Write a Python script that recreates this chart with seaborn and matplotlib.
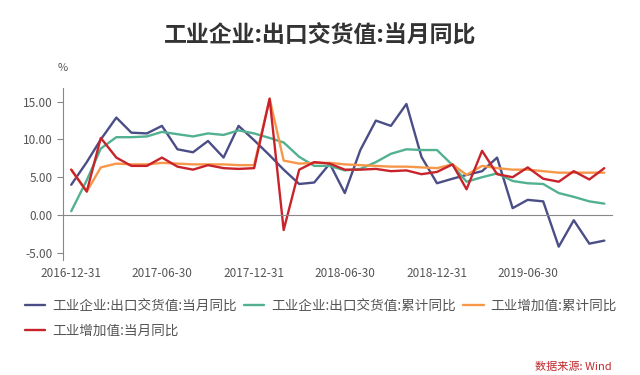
import pandas as pd
import matplotlib
matplotlib.use('Agg')
import matplotlib.pyplot as plt
import matplotlib.dates as mdates
import seaborn as sns

# monthly points, 2016-12 .. 2019-11
months = pd.date_range('2016-12-31', periods=36, freq='ME')

export_month = [4.0, 7.0, 10.0, 12.9, 10.9, 10.8, 11.8, 8.7, 8.3, 9.8, 7.6, 11.8,
                9.9, 7.9, 6.0, 4.1, 4.3, 6.8, 2.9, 8.6, 12.5, 11.8, 14.7, 7.7,
                4.2, 4.8, 5.3, 5.8, 7.6, 0.9, 2.0, 1.8, -4.2, -0.7, -3.8, -3.4]
export_cum = [0.5, 4.6, 8.8, 10.3, 10.3, 10.4, 11.0, 10.7, 10.4, 10.8, 10.6, 11.2,
              10.8, 10.2, 9.6, 7.7, 6.5, 6.5, 5.9, 6.1, 7.0, 8.1, 8.7, 8.6,
              8.6, 6.6, 4.4, 5.0, 5.5, 4.5, 4.2, 4.1, 2.9, 2.4, 1.8, 1.5]
va_cum = [6.0, 3.1, 6.3, 6.8, 6.7, 6.7, 6.9, 6.8, 6.7, 6.7, 6.7, 6.6,
          6.6, 15.4, 7.2, 6.8, 6.9, 6.9, 6.7, 6.6, 6.5, 6.4, 6.4, 6.3,
          6.2, 6.7, 5.3, 6.5, 6.2, 6.0, 6.0, 5.8, 5.6, 5.6, 5.6, 5.6]
va_month = [6.0, 3.1, 10.2, 7.6, 6.5, 6.5, 7.6, 6.4, 6.0, 6.6, 6.2, 6.1,
            6.2, 15.4, -2.0, 6.0, 7.0, 6.8, 6.0, 6.0, 6.1, 5.8, 5.9, 5.4,
            5.7, 6.7, 3.4, 8.5, 5.4, 5.0, 6.3, 4.8, 4.4, 5.8, 4.7, 6.2]

names = ['工业企业:出口交货值:当月同比', '工业企业:出口交货值:累计同比',
         '工业增加值:累计同比', '工业增加值:当月同比']
colors = ['#4b4e86', '#52b190', '#f7974a', '#c8232b']
tick_dates = ['2016-12-31', '2017-06-30', '2017-12-31', '2018-06-30',
              '2018-12-31', '2019-06-30']

frames = []
for name, vals in zip(names, [export_month, export_cum, va_cum, va_month]):
    frames.append(pd.DataFrame({'date': months, 'value': vals, 'series': name}))
df = pd.concat(frames, ignore_index=True)

sns.set_style('white')
plt.rcParams['font.family'] = ['Noto Sans CJK SC', 'DejaVu Sans']

fig = plt.figure(figsize=(6.4, 3.75), dpi=100)
ax = fig.add_axes([0.098, 0.307, 0.858, 0.458])

sns.lineplot(data=df, x='date', y='value', hue='series', hue_order=names,
             palette=dict(zip(names, colors)), linewidth=1.7, ax=ax, legend=True)

ax.set_ylim(-5.95, 16.8)
ax.set_xlim(pd.Timestamp('2016-12-14'), pd.Timestamp('2019-12-15'))
ax.set_yticks([-5, 0, 5, 10, 15])
ax.yaxis.set_major_formatter(plt.FormatStrFormatter('%.2f'))
ax.set_xlabel('')
ax.set_ylabel('')

for s in ['top', 'right']:
    ax.spines[s].set_visible(False)
ax.spines['left'].set_color('#888888')
ax.spines['bottom'].set_color('#888888')
ax.spines['bottom'].set_position(('data', 0))

ticks = pd.to_datetime(tick_dates)
ax.set_xticks(ticks)
ax.tick_params(axis='x', length=4, color='#888888', labelbottom=False)
ax.tick_params(axis='y', length=4, color='#888888', labelsize=8.5,
               labelcolor='#555555', left=True)

sec = ax.secondary_xaxis(0)
sec.set_xticks(ticks)
sec.xaxis.set_major_formatter(mdates.DateFormatter('%Y-%m-%d'))
sec.tick_params(length=0, labelsize=8.5, labelcolor='#555555', pad=5)
sec.spines['bottom'].set_visible(False)

ax.text(0.0, 1.12, '%', transform=ax.transAxes, fontsize=8, color='#555555',
        ha='center', va='center')

handles, labels = ax.get_legend_handles_labels()
ax.get_legend().remove()
order = [0, 3, 1, 2]
fig.legend([handles[i] for i in order], [labels[i] for i in order],
           loc='upper left', bbox_to_anchor=(0.03, 0.218), ncol=3, frameon=False,
           fontsize=9.8, labelcolor='#555555', handlelength=1.5, handletextpad=0.5,
           columnspacing=0.55, borderaxespad=0, labelspacing=0.8)

fig.text(0.5, 0.905, '工业企业:出口交货值:当月同比', ha='center', va='center',
         fontsize=16.5, fontweight='bold', color='#333333')
fig.text(0.955, 0.008, '数据来源: Wind', ha='right', va='bottom', fontsize=8,
         color='#c0282d', style='italic')

fig.savefig('out.png', dpi=100)
